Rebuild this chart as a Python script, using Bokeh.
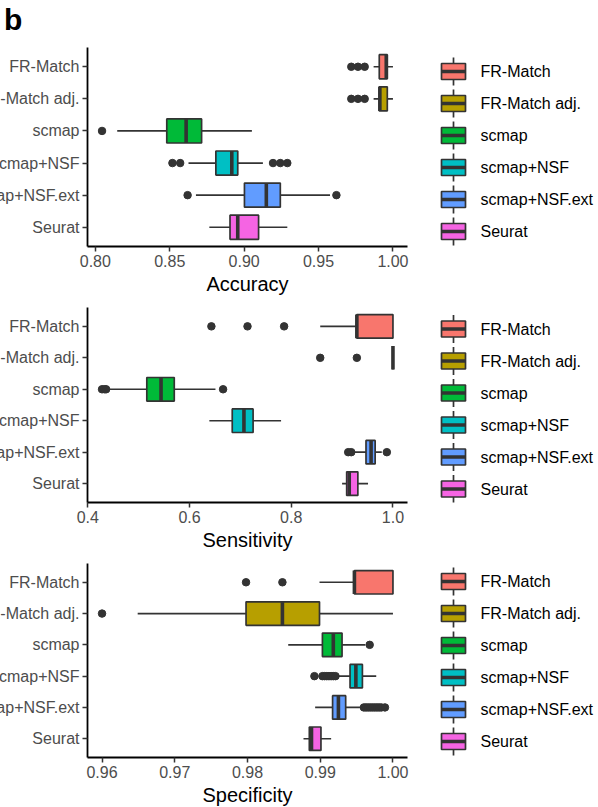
from bokeh.plotting import figure
from bokeh.models import ColumnDataSource, FactorRange, Range1d, FixedTicker, NumeralTickFormatter, Div
from bokeh.layouts import column, row
from bokeh.transform import dodge
from bokeh.core.properties import value
from bokeh.embed import file_html
from bokeh.resources import INLINE

categories = ["FR-Match", "FR-Match adj.", "scmap", "scmap+NSF", "scmap+NSF.ext", "Seurat"]
colors = ["#F8766D", "#B79F00", "#00BA38", "#00BFC4", "#619CFF", "#F564E3"]

# Accuracy
acc_lower = [0.9870, 0.9870, 0.8147, 0.8626, 0.8676, 0.8766]
acc_q1 = [0.9908, 0.9908, 0.8480, 0.8810, 0.9002, 0.8905]
acc_median = [0.9955, 0.9912, 0.8610, 0.8917, 0.9149, 0.8957]
acc_q3 = [0.9962, 0.9962, 0.8714, 0.8957, 0.9243, 0.9097]
acc_upper = [1.0000, 1.0000, 0.9052, 0.9126, 0.9577, 0.9290]
acc_out_cat = ["FR-Match", "FR-Match", "FR-Match", "FR-Match adj.", "FR-Match adj.", "FR-Match adj.",
               "scmap", "scmap+NSF", "scmap+NSF", "scmap+NSF", "scmap+NSF", "scmap+NSF",
               "scmap+NSF.ext", "scmap+NSF.ext"]
acc_out_val = [0.9720, 0.9765, 0.9810, 0.9720, 0.9765, 0.9810,
               0.8045, 0.8518, 0.8570, 0.9194, 0.9243, 0.9290,
               0.8620, 0.9620]
acc_ticks = [0.80, 0.85, 0.90, 0.95, 1.00]

# Sensitivity
sen_lower = [0.857, 1.000, 0.441, 0.639, 0.921, 0.900]
sen_q1 = [0.929, 1.000, 0.516, 0.684, 0.947, 0.909]
sen_median = [0.929, 1.000, 0.544, 0.707, 0.957, 0.914]
sen_q3 = [1.000, 1.000, 0.570, 0.725, 0.965, 0.931]
sen_upper = [1.000, 1.000, 0.651, 0.780, 0.978, 0.951]
sen_out_cat = ["FR-Match", "FR-Match", "FR-Match", "FR-Match adj.", "FR-Match adj.",
               "scmap", "scmap", "scmap", "scmap",
               "scmap+NSF.ext", "scmap+NSF.ext", "scmap+NSF.ext"]
sen_out_val = [0.643, 0.714, 0.786, 0.857, 0.929,
               0.428, 0.433, 0.436, 0.666,
               0.912, 0.918, 0.988]
sen_ticks = [0.4, 0.6, 0.8, 1.0]

# Specificity
spe_lower = [0.9899, 0.9649, 0.9856, 0.9925, 0.9893, 0.9877]
spe_q1 = [0.9947, 0.9798, 0.9903, 0.9941, 0.9917, 0.9885]
spe_median = [0.9947, 0.9848, 0.9918, 0.9949, 0.9925, 0.9888]
spe_q3 = [1.0000, 0.9899, 0.9930, 0.9958, 0.9935, 0.9901]
spe_upper = [1.0000, 1.0000, 0.9962, 0.9977, 0.9957, 0.9915]
spe_out_cat = ["FR-Match", "FR-Match", "FR-Match adj.", "scmap",
               "scmap+NSF", "scmap+NSF", "scmap+NSF", "scmap+NSF",
               "scmap+NSF", "scmap+NSF", "scmap+NSF", "scmap+NSF",
               "scmap+NSF.ext", "scmap+NSF.ext", "scmap+NSF.ext", "scmap+NSF.ext", "scmap+NSF.ext",
               "scmap+NSF.ext", "scmap+NSF.ext", "scmap+NSF.ext", "scmap+NSF.ext", "scmap+NSF.ext"]
spe_out_val = [0.9798, 0.9848, 0.9600, 0.9968,
               0.9892, 0.9903, 0.9906, 0.9909, 0.9912, 0.9915, 0.9918, 0.9921,
               0.9960, 0.9963, 0.9966, 0.9969, 0.9972, 0.9975, 0.9978, 0.9981, 0.9984, 0.9989]
spe_ticks = [0.96, 0.97, 0.98, 0.99, 1.00]

FONT = "Liberation Sans"
DARK = "#333333"
LEFT_BORDER = 135
SHIFT = 48
ROW_PX = 32  # legend row pitch in pixels


def make_panel(label, lower, q1, med, q3, upper, out_cat, out_val, ticks, fmt,
               frame_h, top, bottom, legend_dy):
    allv = lower + upper + out_val
    lo, hi = min(allv), max(allv)
    pad = 0.05 * (hi - lo)
    yr = FactorRange(factors=categories[::-1], range_padding=0.1, range_padding_units="absolute")
    p = figure(y_range=yr, x_range=Range1d(lo - pad, hi + pad),
               frame_width=320, frame_height=frame_h,
               min_border_left=LEFT_BORDER, min_border_right=13,
               min_border_top=top, min_border_bottom=bottom,
               output_backend="svg", toolbar_location=None)
    src = ColumnDataSource(dict(cat=categories, lower=lower, q1=q1, med=med, q3=q3,
                                upper=upper, color=colors))
    p.segment(x0="lower", y0="cat", x1="upper", y1="cat", source=src,
              line_color=DARK, line_width=1.7)
    p.hbar(y="cat", left="q1", right="q3", height=0.75, source=src,
           fill_color="color", line_color=DARK, line_width=1.7)
    p.segment(x0="med", y0=dodge("cat", -0.375, range=yr), x1="med",
              y1=dodge("cat", 0.375, range=yr), source=src,
              line_color=DARK, line_width=3.6)
    osrc = ColumnDataSource(dict(cat=out_cat, val=out_val))
    p.scatter(x="val", y="cat", source=osrc, size=7.5, fill_color=DARK, line_color=DARK)

    p.xaxis.ticker = FixedTicker(ticks=ticks)
    p.xaxis.formatter = NumeralTickFormatter(format=fmt)
    p.xaxis.axis_label = label
    p.xaxis.axis_label_text_font = FONT
    p.xaxis.axis_label_text_font_size = "20px"
    p.xaxis.axis_label_text_font_style = "normal"
    p.xaxis.axis_label_text_color = "black"
    p.xaxis.axis_label_standoff = 3
    for ax in (p.xaxis[0], p.yaxis[0]):
        ax.axis_line_color = "black"
        ax.axis_line_width = 1.8
        ax.major_tick_line_color = DARK
        ax.major_tick_line_width = 1.5
        ax.major_tick_out = 5
        ax.major_tick_in = 0
        ax.minor_tick_out = 0
        ax.minor_tick_in = 0
        ax.major_label_text_font = FONT
        ax.major_label_text_font_size = "16px"
        ax.major_label_text_color = "#4D4D4D"
        ax.major_label_standoff = 3
    p.xgrid.visible = False
    p.ygrid.visible = False
    p.outline_line_color = None

    # legend: same borders as the plot so the row keeps both frames aligned
    lpad = (frame_h / ROW_PX - len(categories)) / 2
    lr = FactorRange(factors=categories[::-1], range_padding=lpad, range_padding_units="absolute")
    L = figure(y_range=lr, x_range=Range1d(0, 178), frame_width=178, frame_height=frame_h,
               min_border_left=0, min_border_right=0, min_border_top=top,
               min_border_bottom=bottom,
               x_axis_location=None, y_axis_location=None,
               output_backend="svg", toolbar_location=None)
    off = -legend_dy / ROW_PX
    lsrc = ColumnDataSource(dict(cat=categories, color=colors))
    ymid = dodge("cat", off, range=lr)
    L.segment(x0=33, y0=dodge("cat", off - 0.44, range=lr), x1=33,
              y1=dodge("cat", off + 0.44, range=lr),
              source=lsrc, line_color=DARK, line_width=1.7)
    L.rect(x=33, y=ymid, width=24, height=16, width_units="screen", height_units="screen",
           source=lsrc, fill_color="color", line_color=DARK, line_width=1.7)
    L.segment(x0=21, y0=ymid, x1=45, y1=ymid, source=lsrc, line_color=DARK, line_width=3.4)
    L.text(x=60, y=ymid, text="cat", source=lsrc, text_baseline="middle",
           text_font=value(FONT), text_font_size="16px", text_color="black")
    L.xgrid.visible = False
    L.ygrid.visible = False
    L.outline_line_color = None
    return row(p, L)


letter = Div(text="b", width=40, height=38, margin=(5, 0, 0, SHIFT + 4),
             styles={"font-family": FONT, "font-size": "30px", "font-weight": "bold",
                     "line-height": "1", "color": "black"})

r1 = make_panel("Accuracy", acc_lower, acc_q1, acc_median, acc_q3, acc_upper,
                acc_out_cat, acc_out_val, acc_ticks, "0.00", 199, 4, 51, 4.5)
r2 = make_panel("Sensitivity", sen_lower, sen_q1, sen_median, sen_q3, sen_upper,
                sen_out_cat, sen_out_val, sen_ticks, "0.0", 195, 10, 51, 4.0)
r3 = make_panel("Specificity", spe_lower, spe_q1, spe_median, spe_q3, spe_upper,
                spe_out_cat, spe_out_val, spe_ticks, "0.00", 194, 10, 49, 1.0)

layout = column(letter, r1, r2, r3, margin=(0, 0, 0, -SHIFT))

with open("out.html", "w") as f:
    f.write(file_html(layout, INLINE))
